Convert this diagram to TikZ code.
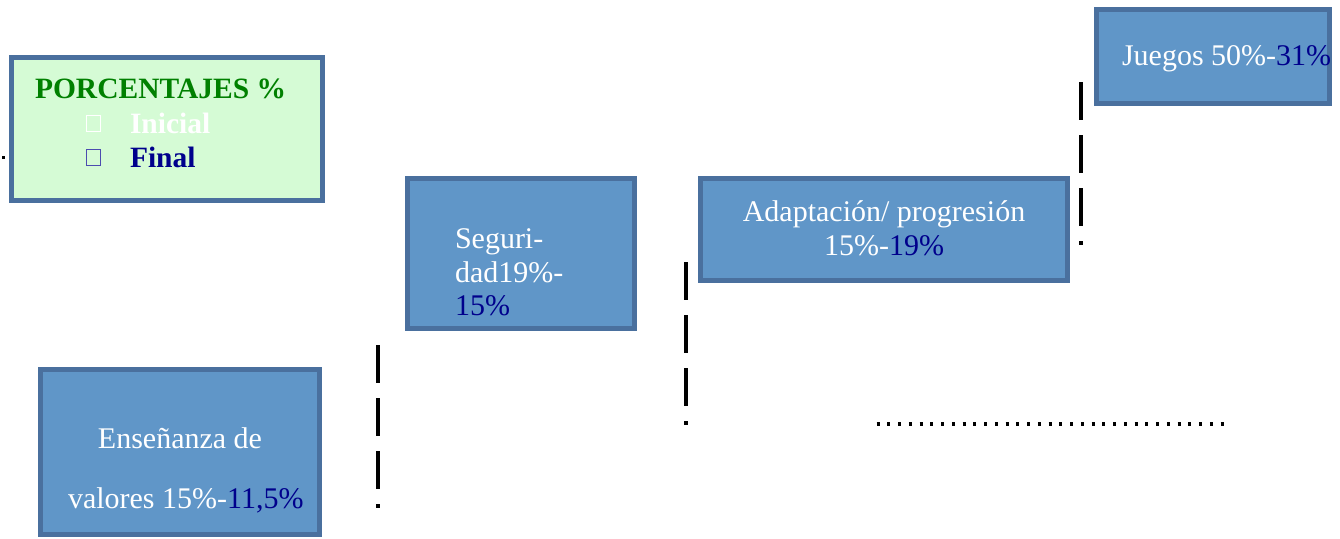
\documentclass[tikz,border=0pt]{standalone}
\usepackage{fontspec}
\setmainfont{Liberation Serif}
\definecolor{boxfill}{RGB}{96,150,200}
\definecolor{boxline}{RGB}{74,112,158}
\definecolor{navy}{RGB}{0,0,140}
\definecolor{dgreen}{RGB}{0,128,0}
\definecolor{legfill}{RGB}{213,251,213}
\begin{document}
\begin{tikzpicture}[x=1pt,y=-1pt,
  box/.style={draw=boxline,line width=5pt,fill=boxfill,rectangle,inner sep=0pt,outer sep=0pt,anchor=north west},
  legbox/.style={box,fill=legfill},
  txt/.style={inner sep=0pt,outer sep=0pt,anchor=base west,font=\fontsize{30}{34}\selectfont,text=white},
  txtc/.style={txt,anchor=base},
  legtxt/.style={txt,font=\fontsize{29.5}{34}\selectfont\bfseries},
  glyphbox/.style={draw,line width=1pt,minimum width=14pt,minimum height=16pt,inner sep=0pt,anchor=north west},
  dashline/.style={line width=4.5pt,dash pattern=on 38pt off 15pt},
  dotline/.style={line width=3.2pt,dash pattern=on 3.2pt off 7.55pt}]
\useasboundingbox (0,0) rectangle (1340,538);
% legend
\node[legbox,minimum width=311pt,minimum height=143pt] (leg) at (11.5,57.5) {};
\node[legtxt,text=dgreen] (legt) at (35,98) {PORCENTAJES \%};
\node[glyphbox,draw=white] (gi) at (86,115) {};
\node[legtxt] (ini) at (130,133) {Inicial};
\node[glyphbox,draw=navy!70] (gf) at (86,149) {};
\node[legtxt,text=navy] (fin) at (130,167) {Final};
\node[fill=black,minimum size=3pt,inner sep=0pt] (dotl) at (3,157) {};
% seguridad
\node[box,minimum width=227pt,minimum height=150pt] (seg) at (407.5,178.5) {};
\node[txt] (seg1) at (455,248) {Seguri-};
\node[txt] (seg2) at (455,282) {dad19\%-};
\node[txt,text=navy] (seg3) at (455,315) {15\%};
% adaptacion
\node[box,minimum width=367pt,minimum height=102pt] (ada) at (700.5,178.5) {};
\node[txtc] (ada1) at (884,221) {Adaptación/ progresión};
\node[txtc] (ada2) at (884,255) {15\%-{\color{navy}19\%}};
% juegos
\node[box,minimum width=233pt,minimum height=94pt] (jue) at (1096.5,9.5) {};
\node[txt] (jue1) at (1122,65) {Juegos 50\%-{\color{navy}31\%}};
% ensenanza
\node[box,minimum width=279pt,minimum height=165pt] (ens) at (40.5,369.5) {};
\node[txtc] (ens1) at (180,448) {Enseñanza de};
\node[txt] (ens2) at (68,508) {valores 15\%-{\color{navy}11,5\%}};
% dashed separators
\coordinate (d1a) at (378,345); \coordinate (d1b) at (378,507.5);
\coordinate (d2a) at (686,262); \coordinate (d2b) at (686,424.5);
\coordinate (d3a) at (1081,82); \coordinate (d3b) at (1081,244.5);
\draw[dashline] (d1a) -- (d1b);
\draw[dashline] (d2a) -- (d2b);
\draw[dashline] (d3a) -- (d3b);
% dotted line
\coordinate (p1) at (876.5,424); \coordinate (p2) at (1225,424);
\draw[dotline] (p1) -- (p2);
\end{tikzpicture}
\end{document}
